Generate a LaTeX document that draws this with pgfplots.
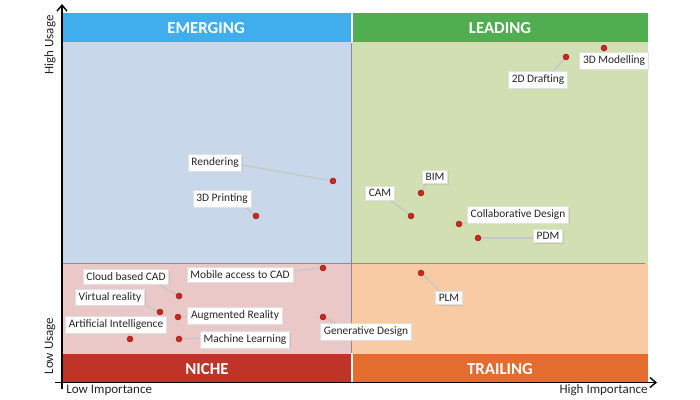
\documentclass[border=0pt]{standalone}
\usepackage{pgfplots}
\pgfplotsset{compat=1.18}
\usepackage{pgfplotstable}
\usepackage{fontspec}
\setmainfont{Carlito}
\usetikzlibrary{arrows.meta,shadows}
\definecolor{emhead}{RGB}{64,174,236}
\definecolor{embg}{RGB}{200,216,234}
\definecolor{ldhead}{RGB}{80,174,80}
\definecolor{ldbg}{RGB}{209,223,178}
\definecolor{nihead}{RGB}{192,52,40}
\definecolor{nibg}{RGB}{235,200,200}
\definecolor{trhead}{RGB}{228,108,46}
\definecolor{trbg}{RGB}{248,203,164}
\definecolor{dotred}{RGB}{208,40,30}
% technologies: importance (x) and usage (y) in picture units
\pgfplotstableread{
x   y
604 48
566 57
333 181
256 216
421 193
411 216
459 224
478 238
421 273
323 268
179 296
160 312
178 317
130 339
179 339
323 317
}\pts
\begin{document}
\begin{tikzpicture}[
  lbl/.style={fill=white, draw=black!12, inner sep=1.6pt, text=black!85,
    font=\fontsize{5.7}{6}\selectfont,
    drop shadow={opacity=0.18, shadow xshift=0.5pt, shadow yshift=-0.5pt}},
  head/.style={text=white, font=\fontsize{8.4}{9}\selectfont\bfseries},
  call/.style={draw=black!22, line width=0.7pt},
  axl/.style={font=\fontsize{6.5}{7}\selectfont, text=black!85}]
\begin{axis}[scale only axis, width=350pt, height=200pt,
  xmin=0, xmax=700, ymin=0, ymax=400, y dir=reverse,
  axis lines=none, clip=false]
\path (axis cs:0,0) rectangle (axis cs:700,400);
% quadrant backgrounds
\fill[embg] (axis cs:63,42) rectangle (axis cs:351,264);
\fill[ldbg] (axis cs:352,42) rectangle (axis cs:648,264);
\fill[nibg] (axis cs:63,264) rectangle (axis cs:351,354);
\fill[trbg] (axis cs:352,264) rectangle (axis cs:648,354);
% header bands
\fill[emhead] (axis cs:63,13) rectangle (axis cs:350.5,42.5);
\fill[ldhead] (axis cs:352.5,13) rectangle (axis cs:648,42.5);
\fill[nihead] (axis cs:63,354) rectangle (axis cs:350.5,382);
\fill[trhead] (axis cs:352.5,354) rectangle (axis cs:648,382);
\node[head] at (axis cs:206,28) {EMERGING};
\node[head] at (axis cs:500,28) {LEADING};
\node[head] at (axis cs:207,369) {NICHE};
\node[head] at (axis cs:500,369) {TRAILING};
% dividers
\draw[black!45, line width=0.5pt] (axis cs:351.5,43) -- (axis cs:351.5,353);
\draw[black!45, line width=0.5pt] (axis cs:63,264) -- (axis cs:645,264);
% axes
\draw[line width=0.7pt, -{Straight Barb[length=3pt,width=5pt]}] (axis cs:62,389) -- (axis cs:62,4);
\draw[line width=0.7pt, -{Straight Barb[length=3pt,width=5pt]}] (axis cs:55,382.5) -- (axis cs:657,382.5);
\node[axl, rotate=90] at (axis cs:50,45) {High Usage};
\node[axl, rotate=90] at (axis cs:50,346) {Low Usage};
\node[axl, anchor=west, inner sep=0pt] at (axis cs:66,390) {Low Importance};
\node[axl, anchor=east, inner sep=0pt] at (axis cs:648,390) {High Importance};
% callout leaders
\draw[call] (axis cs:604,48) -- (axis cs:604,61);
\draw[call] (axis cs:566,57) -- (axis cs:545,80);
\draw[call] (axis cs:333,181) -- (axis cs:230,163);
\draw[call] (axis cs:256,216) -- (axis cs:235,199);
\draw[call] (axis cs:421,193) -- (axis cs:430,177);
\draw[call] (axis cs:411,216) -- (axis cs:385,196);
\draw[call] (axis cs:459,224) -- (axis cs:500,218);
\draw[call] (axis cs:478,238) -- (axis cs:545,238);
\draw[call] (axis cs:421,273) -- (axis cs:445,296);
\draw[call] (axis cs:323,268) -- (axis cs:270,273);
\draw[call] (axis cs:179,296) -- (axis cs:150,280);
\draw[call] (axis cs:160,312) -- (axis cs:130,298);
\draw[call] (axis cs:178,317) -- (axis cs:200,316);
\draw[call] (axis cs:130,339) -- (axis cs:125,326);
\draw[call] (axis cs:179,339) -- (axis cs:215,338);
\draw[call] (axis cs:323,317) -- (axis cs:350,330);
% labels
\node[lbl] at (axis cs:614,61) {3D Modelling};
\node[lbl] at (axis cs:538,80) {2D Drafting};
\node[lbl] at (axis cs:215,163) {Rendering};
\node[lbl] at (axis cs:222,199) {3D Printing};
\node[lbl] at (axis cs:435,177) {BIM};
\node[lbl] at (axis cs:380,193) {CAM};
\node[lbl] at (axis cs:518,215) {Collaborative Design};
\node[lbl] at (axis cs:548,236) {PDM};
\node[lbl] at (axis cs:449,298) {PLM};
\node[lbl] at (axis cs:240,275) {Mobile access to CAD};
\node[lbl] at (axis cs:126,277) {Cloud based CAD};
\node[lbl] at (axis cs:110,297) {Virtual reality};
\node[lbl] at (axis cs:235,316) {Augmented Reality};
\node[lbl] at (axis cs:116,325) {Artificial Intelligence};
\node[lbl] at (axis cs:245,340) {Machine Learning};
\node[lbl] at (axis cs:366,332) {Generative Design};
% points
\addplot[only marks, mark=*, mark size=1.4pt, draw=dotred!80!black, fill=dotred] table[x=x, y=y] {\pts};
\end{axis}
\end{tikzpicture}
\end{document}
